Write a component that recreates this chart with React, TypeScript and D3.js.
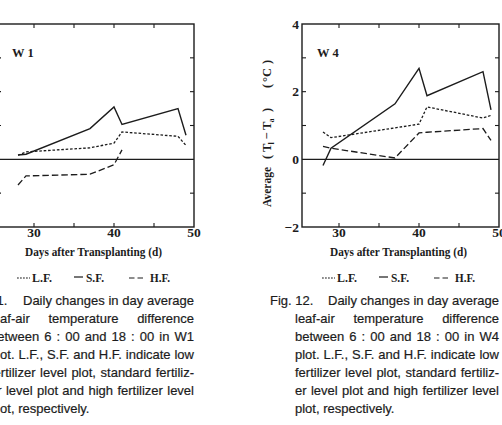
import React from "react";
import * as d3 from "d3";

// Sampling days (days after transplanting)
const days = [28, 29, 37, 40, 41, 48, 49];
const hfDaysW1 = [28, 29, 37, 40, 41];

// W1 plot: average leaf-air temperature difference (°C)
const w1LF = [0.12, 0.22, 0.34, 0.48, 0.81, 0.68, 0.41];
const w1SF = [0.13, 0.15, 0.91, 1.55, 1.03, 1.5, 0.71];
const w1HF = [-0.76, -0.49, -0.44, -0.16, 0.28];

// W4 plot
const w4LF = [0.81, 0.64, 0.93, 1.04, 1.55, 1.22, 1.3];
const w4SF = [-0.18, 0.33, 1.64, 2.69, 1.88, 2.59, 1.46];
const w4HF = [0.38, 0.33, 0.04, 0.78, 0.8, 0.91, 0.56];

const xTicks = [30, 35, 40, 45];
const xTickLabels = [30, 40, 50];
const yTicks = [-1, 1, 2, 3];
const yTickLabels = [-2, 0, 2, 4];
const legendLabels = ["L.F.", "S.F.", "H.F."];
const xTitle = "Days after Transplanting (d)";

const captionW1Head = "Fig. 11.";
const captionW4Head = "Fig. 12.";
const captionBody = (plot: string) => [
  "Daily changes in day average",
  "leaf-air temperature difference",
  `between 6 : 00 and 18 : 00 in ${plot}`,
  "plot. L.F., S.F. and H.F. indicate low",
  "fertilizer level plot, standard fertiliz-",
  "er level plot and high fertilizer level",
  "plot, respectively.",
];

const INK = "#1c1c1c";
const SERIF = "'Liberation Serif', 'Times New Roman', serif";
const SANS = "'Liberation Sans', Arial, sans-serif";
const CAPTION_SIZE = 13;

const DOTTED = "2.6,1.8";
const DASHED = "6.5,3";

let measureCtx: CanvasRenderingContext2D | null = null;
function textWidth(s: string, font: string): number {
  if (!measureCtx) measureCtx = document.createElement("canvas").getContext("2d");
  if (!measureCtx) return s.length * 6.5;
  measureCtx.font = font;
  return measureCtx.measureText(s).width;
}

// Justified paragraph with a hanging head ("Fig. n."), laid out word by word.
function Caption({
  head,
  lines,
  x0,
  firstStart,
  indent,
  right,
  top,
}: {
  head: string;
  lines: string[];
  x0: number;
  firstStart: number;
  indent: number;
  right: number;
  top: number;
}) {
  const font = `${CAPTION_SIZE}px 'Liberation Sans'`;
  const space = textWidth(" ", font);
  return (
    <g fontFamily={SANS} fontSize={CAPTION_SIZE} fill={INK} stroke={INK} strokeWidth={0.2}>
      <text x={x0} y={top}>
        {head}
      </text>
      {lines.map((line, i) => {
        const words = line.split(" ");
        const widths = words.map((w) => textWidth(w, font));
        const start = i === 0 ? firstStart : indent;
        const total = d3.sum(widths);
        const last = i === lines.length - 1;
        const gap = last || words.length < 2 ? space : (right - start - total) / (words.length - 1);
        let cx = start;
        return words.map((w, j) => {
          const el = (
            <text key={`${i}-${j}`} x={cx} y={top + i * 18}>
              {w}
            </text>
          );
          cx += widths[j] + gap;
          return el;
        });
      })}
    </g>
  );
}

type PanelProps = {
  dx: number;
  name: string;
  lf: number[];
  sf: number[];
  hf: number[];
  hfDays: number[];
  head: string;
  caption: string[];
  showYAxisText: boolean;
};

function Panel({ dx, name, lf, sf, hf, hfDays, head, caption, showYAxisText }: PanelProps) {
  const x = d3.scaleLinear().domain([25.375, 50]).range([302 + dx, 499 + dx]);
  const y = d3.scaleLinear().domain([-2, 4]).range([227, 24]);
  const [x0, x1] = x.range();
  const [yb, yt] = y.range();
  const line = d3
    .line<[number, number]>()
    .x((d) => x(d[0]))
    .y((d) => y(d[1]));
  const pts = (ds: number[], vs: number[]) => ds.map((d, i) => [d, vs[i]] as [number, number]);

  const legendY = 278;
  return (
    <g>
      {/* frame */}
      <rect x={x0} y={yt} width={x1 - x0} height={yb - yt} fill="none" stroke={INK} strokeWidth={1.4} />
      {/* zero line */}
      <line x1={x0} x2={x1} y1={y(0)} y2={y(0)} stroke={INK} strokeWidth={1.3} />
      {/* ticks */}
      {xTicks.map((t) => (
        <g key={`xt${t}`} stroke={INK} strokeWidth={1.1}>
          <line x1={x(t)} x2={x(t)} y1={yb} y2={yb - 4} />
          <line x1={x(t)} x2={x(t)} y1={yt} y2={yt + 4} />
        </g>
      ))}
      {yTicks.map((t) => (
        <g key={`yt${t}`} stroke={INK} strokeWidth={1.1}>
          <line x1={x0} x2={x0 + 4} y1={y(t)} y2={y(t)} />
          <line x1={x1} x2={x1 - 4} y1={y(t)} y2={y(t)} />
        </g>
      ))}
      {/* tick labels */}
      <g fontFamily={SERIF} fontWeight="bold" fontSize={13.5} fill={INK}>
        {xTickLabels.map((t) => (
          <text key={`xl${t}`} x={x(t)} y={237} textAnchor="middle">
            {t}
          </text>
        ))}
        {showYAxisText &&
          yTickLabels.map((t) => (
            <text key={`yl${t}`} x={x0 - 3} y={y(t) + 4.5} textAnchor="end">
              {t < 0 ? `\u2212${Math.abs(t)}` : t}
            </text>
          ))}
      </g>
      {/* panel label */}
      <text x={x0 + 15} y={57} fontFamily={SERIF} fontWeight="bold" fontSize={12.5} fill={INK}>
        {name}
      </text>
      {/* series */}
      <path d={line(pts(days, sf)) ?? ""} fill="none" stroke={INK} strokeWidth={1.4} />
      <path d={line(pts(days, lf)) ?? ""} fill="none" stroke={INK} strokeWidth={1.3} strokeDasharray={DOTTED} />
      <path d={line(pts(hfDays, hf)) ?? ""} fill="none" stroke={INK} strokeWidth={1.3} strokeDasharray={DASHED} />
      {/* y-axis title */}
      {showYAxisText && (
        <g transform={`translate(${x0 - 31},207) rotate(-90)`} fontFamily={SERIF} fontWeight="bold" fontSize={12.5} fill={INK}>
          <text x={0} y={0} textLength={40} lengthAdjust="spacingAndGlyphs">
            Average
          </text>
          <text x={48} y={0}>(</text>
          <text x={55} y={0}>T</text>
          <text x={62.5} y={2.5} fontSize={8}>
            l
          </text>
          <text x={67.5} y={0}>{"\u2212"}</text>
          <text x={77} y={0}>T</text>
          <text x={84.5} y={2.5} fontSize={8}>
            a
          </text>
          <text x={95} y={0}>)</text>
          <text x={119} y={0}>(</text>
          <text x={125} y={0}>°C</text>
          <text x={143} y={0}>)</text>
        </g>
      )}
      {/* x-axis title */}
      <text
        x={x0 + 28}
        y={256}
        fontFamily={SERIF}
        fontWeight="bold"
        fontSize={13}
        fill={INK}
        textLength={137}
        lengthAdjust="spacingAndGlyphs"
      >
        {xTitle}
      </text>
      {/* legend */}
      <g stroke={INK} strokeWidth={1.2}>
        <line x1={x0 + 20} x2={x0 + 33} y1={legendY} y2={legendY} strokeDasharray="1.8,1.2" />
        <line x1={x0 + 77} x2={x0 + 86} y1={legendY - 1} y2={legendY - 1} />
        <line x1={x0 + 132} x2={x0 + 146} y1={legendY} y2={legendY} strokeDasharray="5.5,3" />
      </g>
      <g fontFamily={SERIF} fontWeight="bold" fontSize={12.5} fill={INK}>
        <text x={x0 + 35} y={282} textLength={20} lengthAdjust="spacingAndGlyphs">
          {legendLabels[0]}
        </text>
        <text x={x0 + 89} y={282} textLength={18} lengthAdjust="spacingAndGlyphs">
          {legendLabels[1]}
        </text>
        <text x={x0 + 153} y={282} textLength={20} lengthAdjust="spacingAndGlyphs">
          {legendLabels[2]}
        </text>
      </g>
      <Caption
        head={head}
        lines={caption}
        x0={x0 - 32}
        firstStart={x0 + 26}
        indent={x0 - 7}
        right={x0 + 197}
        top={305}
      />
    </g>
  );
}

export default function App() {
  return (
    <svg width={502} height={425} style={{ position: "absolute", left: 0, top: 0, background: "#fff" }}>
      <rect width={502} height={425} fill="#fff" />
      <Panel
        dx={-305}
        name="W 1"
        lf={w1LF}
        sf={w1SF}
        hf={w1HF}
        hfDays={hfDaysW1}
        head={captionW1Head}
        caption={captionBody("W1")}
        showYAxisText={false}
      />
      <Panel
        dx={0}
        name="W 4"
        lf={w4LF}
        sf={w4SF}
        hf={w4HF}
        hfDays={days}
        head={captionW4Head}
        caption={captionBody("W4")}
        showYAxisText={true}
      />
    </svg>
  );
}
